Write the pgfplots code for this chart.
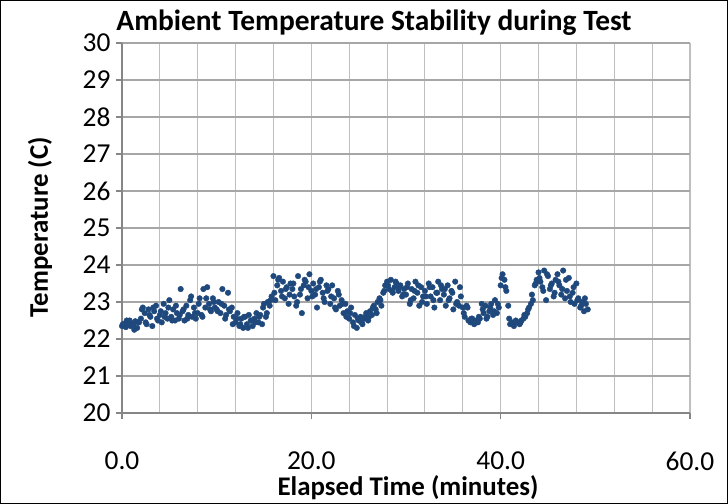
\documentclass[border=0pt]{standalone}
\usepackage{fontspec}
\setmainfont{Carlito}
\usepackage{pgfplots}
\pgfplotsset{compat=1.18}
\definecolor{dotblue}{HTML}{1F497D}
\definecolor{axgray}{HTML}{868686}
\definecolor{hgrid}{HTML}{A6A6A6}
\definecolor{vgrid}{HTML}{BFBFBF}
\begin{document}
\begin{tikzpicture}
\begin{axis}[
  at={(0,0)}, anchor=south west,
  scale only axis, width=568bp, height=370bp,
  xmin=0, xmax=60, ymin=20, ymax=30,
  axis x line*=bottom, axis y line*=left,
  axis line style={-, axgray, line width=1.5bp},
  xtick={0,20,40,60}, minor xtick={4,8,...,56},
  ytick={20,21,...,30},
  xmajorgrids, xminorgrids, ymajorgrids,
  major x grid style={vgrid, line width=1.1bp},
  minor x grid style={vgrid, line width=1.1bp},
  major y grid style={hgrid, line width=1.3bp},
  tick align=outside,
  major tick length=6bp, minor tick length=0pt,
  tick style={axgray, line width=1.2bp},
  /pgf/number format/assume math mode=true,
  ticklabel style={font=\fontsize{27.5}{32}\selectfont},
  yticklabel style={xshift=-2bp},
  xticklabel style={/pgf/number format/.cd, fixed, fixed zerofill, precision=1},
  xticklabel shift=29bp,
  clip=false,
]
\addplot[only marks, mark=*, mark size=2.8bp, mark options={draw=dotblue, fill=dotblue}] table {
x y
0.0 22.35
0.2 22.40
0.4 22.32
0.6 22.45
0.8 22.50
1.0 22.42
1.2 22.38
1.4 22.48
1.6 22.30
1.8 22.45
2.0 22.55
2.2 22.85
2.4 22.70
2.6 22.40
2.8 22.80
3.0 22.60
3.2 22.35
3.4 22.75
3.6 22.90
3.8 22.50
4.0 22.65
4.2 22.45
4.4 22.95
4.6 22.70
4.8 22.55
5.0 23.05
5.2 22.60
5.4 22.80
5.6 22.50
5.8 22.70
6.0 22.55
6.2 23.35
6.4 22.75
6.6 22.50
6.8 22.90
7.0 22.65
7.2 23.05
7.4 22.60
7.6 22.85
7.8 22.55
8.0 22.70
8.2 23.10
8.4 22.65
8.6 23.35
8.8 22.85
9.0 23.40
9.2 22.95
9.4 22.75
9.6 23.10
9.8 22.85
10.0 22.80
10.2 23.00
10.4 22.70
10.6 23.35
10.8 22.90
11.0 22.65
11.2 23.25
11.4 22.75
11.6 22.85
11.8 22.60
12.0 22.45
12.2 22.70
12.4 22.35
12.6 22.55
12.8 22.30
13.0 22.60
13.2 22.40
13.4 22.65
13.6 22.50
13.8 22.35
14.0 22.55
14.2 22.70
14.4 22.45
14.6 22.65
14.8 22.40
15.0 22.95
15.2 22.60
15.4 23.00
15.6 22.90
15.8 23.15
16.0 23.70
16.2 23.05
16.4 23.45
16.6 23.65
16.8 23.30
17.0 23.55
17.2 23.10
17.4 23.40
17.6 22.95
17.8 23.50
18.0 23.35
18.2 23.15
18.4 22.90
18.6 23.70
18.8 23.20
19.0 22.70
19.2 23.45
19.4 23.55
19.6 23.10
19.8 23.75
20.0 23.30
20.2 23.50
20.4 23.20
20.6 22.85
20.8 23.40
21.0 23.60
21.2 23.25
21.4 23.00
21.6 23.45
21.8 23.35
22.0 22.95
22.2 23.45
22.4 23.10
22.6 22.80
22.8 23.30
23.0 22.90
23.2 23.05
23.4 22.70
23.6 22.95
23.8 22.75
24.0 22.55
24.2 22.85
24.4 22.45
24.6 22.65
24.8 22.30
25.0 22.50
25.2 22.60
25.4 22.40
25.6 22.55
25.8 22.70
26.0 22.50
26.2 22.75
26.4 22.65
26.6 22.90
26.8 22.80
27.0 23.00
27.2 23.10
27.4 22.90
27.6 23.25
27.8 23.45
28.0 23.55
28.2 23.35
28.4 23.60
28.6 23.25
28.8 23.40
29.0 23.50
29.2 23.30
29.4 23.45
29.6 23.15
29.8 23.35
30.0 23.20
30.2 23.50
30.4 22.95
30.6 23.35
30.8 23.10
31.0 23.55
31.2 23.25
31.4 22.90
31.6 23.40
31.8 23.15
32.0 23.30
32.2 22.95
32.4 23.50
32.6 23.15
32.8 23.40
33.0 22.85
33.2 23.25
33.4 23.55
33.6 23.05
33.8 23.35
34.0 23.20
34.2 22.90
34.4 23.45
34.6 23.10
34.8 23.30
35.0 22.80
35.2 23.55
35.4 23.00
35.6 22.90
35.8 23.15
36.0 22.85
36.2 22.60
36.4 22.90
36.6 22.50
36.8 22.45
37.0 22.55
37.2 22.40
37.4 22.50
37.6 22.45
37.8 22.55
38.0 22.95
38.2 22.70
38.4 22.90
38.6 22.60
38.8 22.75
39.0 22.95
39.2 22.65
39.4 23.05
39.6 22.70
39.8 22.85
40.0 23.45
40.2 23.75
40.4 23.60
40.6 23.30
40.8 22.90
41.0 22.40
41.2 22.45
41.4 22.35
41.6 22.50
41.8 22.45
42.0 22.40
42.2 22.50
42.4 22.55
42.6 22.60
42.8 22.70
43.0 22.85
43.2 22.95
43.4 23.05
43.6 23.45
43.8 23.60
44.0 23.80
44.2 23.55
44.4 23.40
44.6 23.85
44.8 23.05
45.0 23.70
45.2 23.35
45.4 23.50
45.6 23.15
45.8 23.60
46.0 23.75
46.2 23.45
46.4 23.20
46.6 23.85
46.8 23.10
47.0 23.30
47.2 23.65
47.4 23.00
47.6 23.25
47.8 22.95
48.0 23.50
48.2 23.10
48.4 22.85
48.6 23.00
48.8 22.75
49.0 22.95
49.2 22.80
};
\addplot[only marks, mark=*, mark size=2.8bp, mark options={draw=dotblue, fill=dotblue}] table {
x y
0.1 22.40
0.5 22.50
0.9 22.35
1.3 22.25
1.7 22.45
2.1 22.80
2.5 22.45
2.9 22.65
3.3 22.85
3.7 22.55
4.1 22.75
4.5 22.60
4.9 22.85
5.3 22.50
5.7 22.90
6.1 22.65
6.5 22.80
6.9 22.55
7.3 23.15
7.7 22.70
8.1 22.95
8.5 22.60
8.9 23.10
9.3 22.80
9.7 23.00
10.1 22.75
10.5 22.95
10.9 22.55
11.3 22.80
11.7 22.40
12.1 22.55
12.5 22.40
12.9 22.60
13.3 22.30
13.7 22.50
14.1 22.45
14.5 22.60
14.9 22.85
15.3 22.70
15.7 23.05
16.1 23.25
16.5 23.60
16.9 23.15
17.3 23.35
17.7 23.20
18.1 23.50
18.5 23.00
18.9 23.35
19.3 23.60
19.7 23.40
20.1 23.15
20.5 23.35
20.9 23.55
21.3 23.10
21.7 23.30
22.1 23.15
22.5 22.85
22.9 23.20
23.3 22.95
23.7 22.60
24.1 22.70
24.5 22.35
24.9 22.55
25.3 22.45
25.7 22.60
26.1 22.60
26.5 22.85
26.9 22.70
27.3 23.05
27.7 23.30
28.1 23.45
28.5 23.30
28.9 23.55
29.3 23.40
29.7 23.20
30.1 23.40
30.5 23.05
30.9 23.30
31.3 23.45
31.7 23.00
32.1 23.15
32.5 23.40
32.9 23.05
33.3 23.25
33.7 23.45
34.1 23.35
34.5 23.05
34.9 23.25
35.3 22.95
35.7 23.40
36.1 22.70
36.5 22.85
36.9 22.55
37.3 22.45
37.7 22.60
38.1 22.80
38.5 22.55
38.9 22.85
39.3 22.75
39.7 22.95
40.1 23.65
40.5 23.40
40.9 22.55
41.3 22.40
41.7 22.45
42.1 22.45
42.5 22.65
42.9 22.80
43.3 23.20
43.7 23.50
44.1 23.65
44.5 23.30
44.9 23.75
45.3 23.45
45.7 23.25
46.1 23.55
46.5 23.35
46.9 23.60
47.3 23.15
47.7 23.40
48.1 23.05
48.5 22.90
48.9 23.10
};
\end{axis}
\node[font=\bfseries\fontsize{29.5}{34}\selectfont] at (252bp,390bp) {Ambient Temperature Stability during Test};
\node[font=\bfseries\fontsize{27}{32}\selectfont] at (286bp,-75bp) {Elapsed Time (minutes)};
\node[font=\bfseries\fontsize{27}{32}\selectfont, rotate=90] at (-82bp,186bp) {Temperature (C)};
\draw[black, line width=0.8bp] (-121.6bp,-90.6bp) rectangle (605.6bp,412.6bp);
\end{tikzpicture}
\end{document}
